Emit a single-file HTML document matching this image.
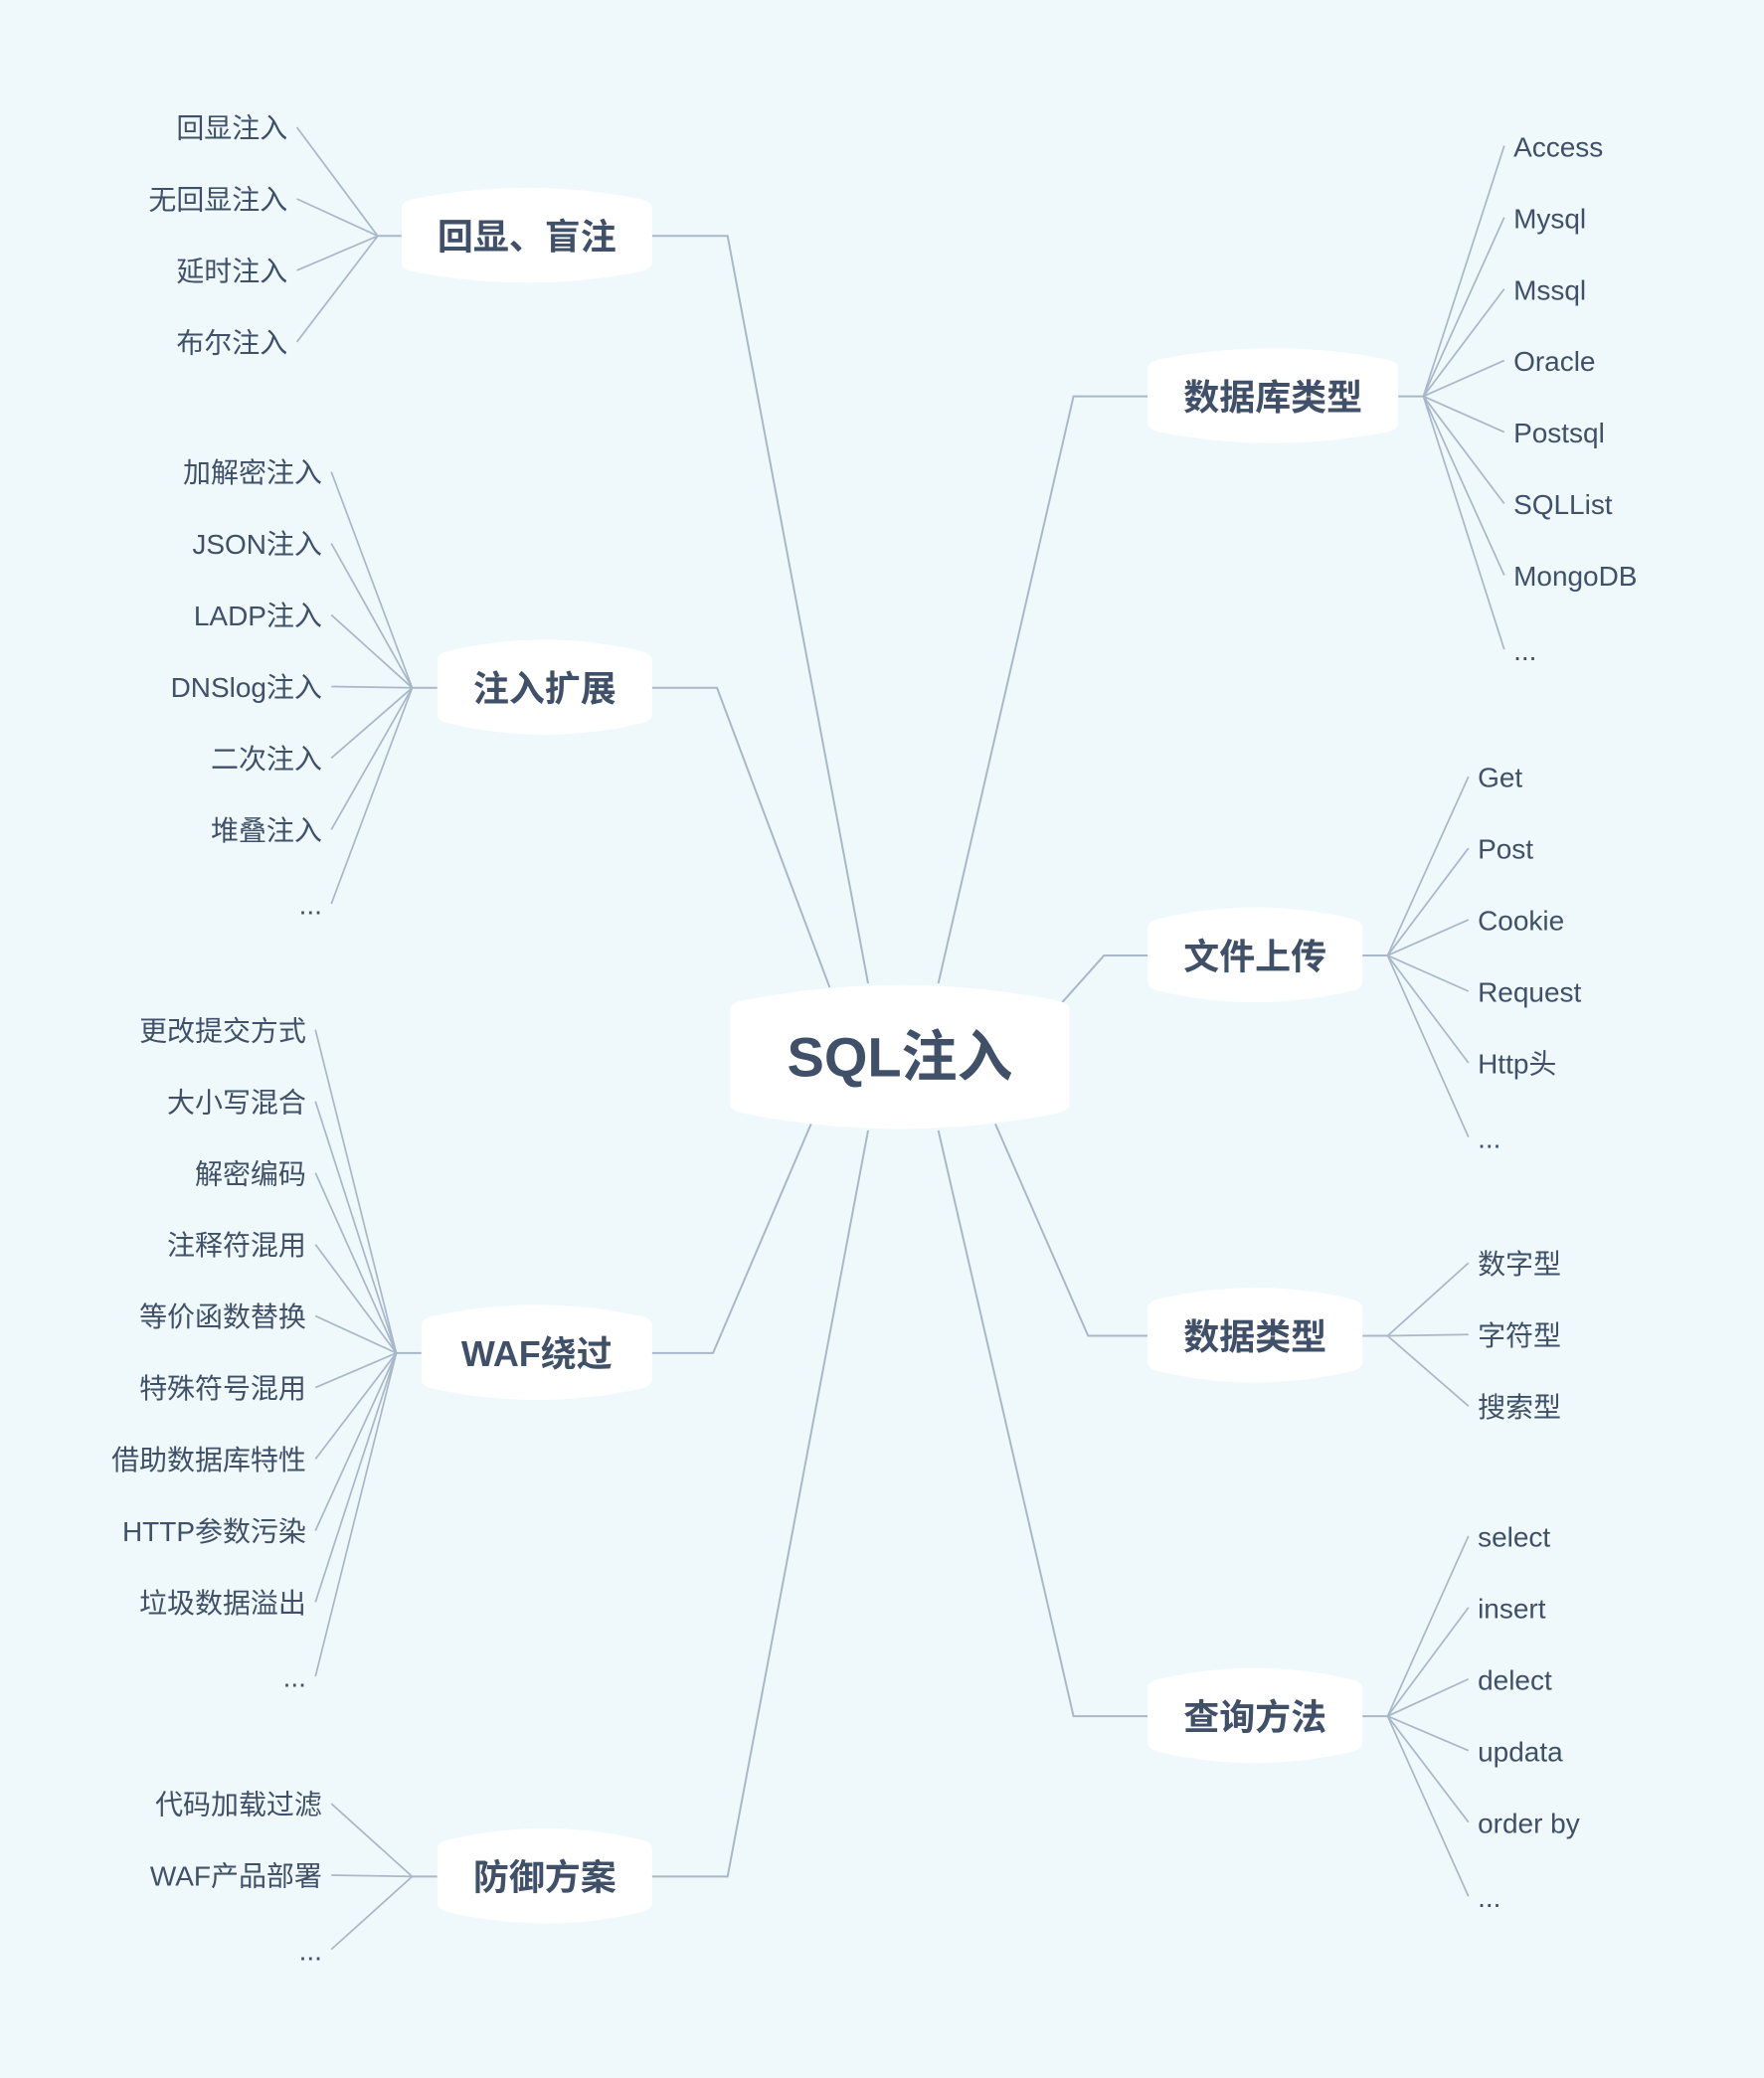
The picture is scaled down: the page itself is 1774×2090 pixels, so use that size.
<!DOCTYPE html>
<html><head><meta charset="utf-8">
<style>
html,body{margin:0;padding:0;background:#eff8fb;}
svg{display:block;}
text{font-family:"Liberation Sans","Noto Sans CJK SC",sans-serif;fill:#3f5068;}
</style></head>
<body>
<svg id="map" width="1774" height="2090" viewBox="0 0 1331 1568" xmlns="http://www.w3.org/2000/svg">
<rect width="1331" height="1568" fill="#eff8fb"/>
<g id="lines"></g>
<g id="nodes"></g>
</svg>
<script>
const NS="http://www.w3.org/2000/svg";
const branchNames=["回显、盲注","注入扩展","WAF绕过","防御方案","数据库类型","文件上传","数据类型","查询方法"];
const leaves0=["回显注入","无回显注入","延时注入","布尔注入"];
const leaves1=["加解密注入","JSON注入","LADP注入","DNSlog注入","二次注入","堆叠注入","..."];
const leaves2=["更改提交方式","大小写混合","解密编码","注释符混用","等价函数替换","特殊符号混用","借助数据库特性","HTTP参数污染","垃圾数据溢出","..."];
const leaves3=["代码加载过滤","WAF产品部署","..."];
const leaves4=["Access","Mysql","Mssql","Oracle","Postsql","SQLList","MongoDB","..."];
const leaves5=["Get","Post","Cookie","Request","Http头","..."];
const leaves6=["数字型","字符型","搜索型"];
const leaves7=["select","insert","delect","updata","order by","..."];
const allLeaves=[leaves0,leaves1,leaves2,leaves3,leaves4,leaves5,leaves6,leaves7];
// layout
const B=[
 {x1:303,x2:492,cy:178,side:-1,sx:655,sy:742,ex:549,firstY:97,hub:285},
 {x1:330,x2:492,cy:519,side:-1,sx:626,sy:745,ex:541,firstY:357,hub:311},
 {x1:318,x2:492,cy:1021,side:-1,sx:612,sy:848,ex:538,firstY:778,hub:299},
 {x1:330,x2:492,cy:1416,side:-1,sx:655,sy:853,ex:549,firstY:1362,hub:311},
 {x1:866,x2:1055,cy:299,side:1,sx:708,sy:742,ex:810,firstY:111,hub:1074},
 {x1:866,x2:1028,cy:721,side:1,sx:800,sy:758,ex:833,firstY:587,hub:1047},
 {x1:866,x2:1028,cy:1008,side:1,sx:751,sy:848,ex:821,firstY:954,hub:1047},
 {x1:866,x2:1028,cy:1295,side:1,sx:708,sy:853,ex:810,firstY:1160,hub:1047}
];
const lines=document.getElementById('lines'), nodes=document.getElementById('nodes');
function mk(tag,attrs,parent){const e=document.createElementNS(NS,tag);for(const k in attrs)e.setAttribute(k,attrs[k]);parent.appendChild(e);return e;}
function shape(x1,y1,x2,y2,d){const cx=(x1+x2)/2;
 return `M${x1},${y1+d+5} Q${x1},${y1+d} ${x1+9},${y1+d-2} Q${cx},${y1-d*0.7} ${x2-9},${y1+d-2} Q${x2},${y1+d} ${x2},${y1+d+5} L${x2},${y2-d-5} Q${x2},${y2-d} ${x2-9},${y2-d+2} Q${cx},${y2+d*0.7} ${x1+9},${y2-d+2} Q${x1},${y2-d} ${x1},${y2-d-5} Z`;}
const LC="#a9b8c9";
B.forEach((b,i)=>{
 const nodeEdge=b.side<0?b.x2:b.x1;
 const l=mk('polyline',{points:`${b.sx},${b.sy} ${b.ex},${b.cy} ${nodeEdge},${b.cy}`,fill:'none',stroke:LC,'stroke-width':1.5},lines);
 
 
 const hubEdge=b.side<0?b.x1:b.x2;
 const h=mk('line',{x1:hubEdge,y1:b.cy,x2:b.hub,y2:b.cy,stroke:LC,'stroke-width':1.5},lines);
 
 
 const endX=b.hub+b.side*61;
 allLeaves[i].forEach((t,j)=>{
  const y=b.firstY+j*54+(t==="..."?2:0);
  const ln=mk('line',{x1:b.hub,y1:b.cy,x2:endX,y2:y-1,stroke:LC,'stroke-width':1.3},lines);
  
  
  const tx=mk('text',{x:endX+b.side*7,y:y+7,'font-size':21,'text-anchor':b.side<0?'end':'start'},nodes);
  tx.textContent=t;
  
  
 });
 const g=mk('g',{},nodes);
 
 
 mk('path',{d:shape(b.x1,b.cy-37,b.x2,b.cy+36,11),fill:'#ffffff'},g);
 const t=mk('text',{x:(b.x1+b.x2)/2,y:b.cy+10,'font-size':27,'font-weight':'bold','text-anchor':'middle'},g);
 t.textContent=branchNames[i];
});
const c=mk('g',{},nodes);


mk('path',{d:shape(551,742,807,853,15),fill:'#ffffff'},c);
const ct=mk('text',{x:679,y:812,'font-size':42,'font-weight':'bold','text-anchor':'middle'},c);
ct.textContent="SQL注入";
</script>
</body></html>
